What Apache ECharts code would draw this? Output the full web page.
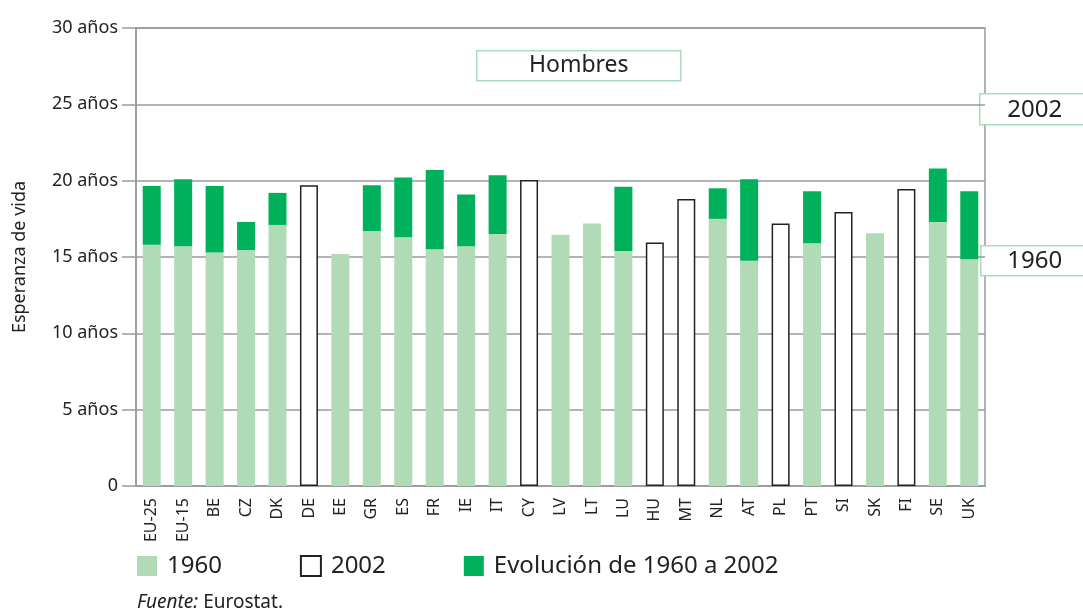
<!DOCTYPE html>
<html>
<head>
<meta charset="utf-8">
<script src="https://cdn.jsdelivr.net/npm/echarts@6/dist/echarts.min.js"></script>
<style>
  html, body { margin: 0; padding: 0; background: #fff; }
  #chart { width: 1083px; height: 614px; }
</style>
</head>
<body>
<div id="chart"></div>
<script>
var myChart = echarts.init(document.getElementById('chart'));

// países
var categories = ['EU-25', 'EU-15', 'BE', 'CZ', 'DK', 'DE', 'EE', 'GR', 'ES', 'FR', 'IE', 'IT', 'CY', 'LV', 'LT',
    'LU', 'HU', 'MT', 'NL', 'AT', 'PL', 'PT', 'SI', 'SK', 'FI', 'SE', 'UK'];
// esperanza de vida a los 65 años, hombres (null = sin dato)
var vida1960 = [15.8, 15.7, 15.3, 15.45, 17.1, null, 15.2, 16.7, 16.3, 15.5, 15.7, 16.5, null, 16.45, 17.2,
    15.4, null, null, 17.5, 14.75, null, 15.9, null, 16.55, null, 17.3, 14.85];
var vida2002 = [19.65, 20.1, 19.65, 17.3, 19.2, 19.7, null, 19.7, 20.2, 20.7, 19.1, 20.35, 20.05, null, null,
    19.6, 15.95, 18.8, 19.5, 20.1, 17.2, 19.3, 17.95, null, 19.45, 20.8, 19.3];
var yTicks = [0, 5, 10, 15, 20, 25, 30];

// series derivadas
var evolucion = categories.map(function (c, i) {
    if (vida1960[i] == null || vida2002[i] == null) return '-';
    return +(vida2002[i] - vida1960[i]).toFixed(2);
});
var solo2002 = categories.map(function (c, i) {
    return (vida1960[i] == null && vida2002[i] != null) ? vida2002[i] : '-';
});
var base1960 = vida1960.map(function (v) { return v == null ? '-' : v; });

var fuente = '"Noto Sans", "Open Sans", sans-serif';
var gris = '#9a9a9a';
var verdeClaro = '#b1dab7';
var verdeOscuro = '#00b05a';

var option = {
    animation: false,
    textStyle: { fontFamily: fuente },
    grid: {
        left: 136,
        right: 98,
        top: 28,
        bottom: 128,
        outerBoundsMode: 'none',
        containLabel: false,
        show: true,
        borderColor: gris,
        borderWidth: 1.5
    },
    legend: {
        data: ['1960', '2002', 'Evolución de 1960 a 2002'],
        left: 137,
        top: 554,
        padding: 0,
        icon: 'rect',
        itemWidth: 20,
        itemHeight: 20,
        itemGap: 78,
        textStyle: { fontSize: 24, color: '#222', fontFamily: fuente, padding: [0, 0, 0, 5] }
    },
    xAxis: {
        type: 'category',
        data: categories,
        axisLine: { lineStyle: { color: gris, width: 1.5 } },
        axisTick: { length: 12, lineStyle: { color: gris, width: 1.5 } },
        axisLabel: {
            rotate: 90,
            interval: 0,
            margin: 12,
            fontSize: 16,
            color: '#222'
        }
    },
    yAxis: {
        type: 'value',
        min: 0,
        max: 30,
        interval: 5,
        name: 'Esperanza de vida',
        nameLocation: 'middle',
        nameRotate: 90,
        nameGap: 107,
        nameTextStyle: { fontSize: 18, color: '#222' },
        axisLine: { show: true, lineStyle: { color: gris, width: 1.5 } },
        axisTick: { show: true, length: 14, lineStyle: { color: gris, width: 1.5 } },
        axisLabel: {
            margin: 18,
            fontSize: 18,
            color: '#222',
            formatter: function (v) {
                return yTicks.indexOf(v) < 0 ? '' : (v === 0 ? '0' : v + ' años');
            }
        },
        splitLine: { lineStyle: { color: gris, width: 1.5 } }
    },
    series: [
        {
            name: '1960',
            type: 'bar',
            stack: 'total',
            barWidth: 18,
            data: base1960,
            itemStyle: { color: verdeClaro }
        },
        {
            name: 'Evolución de 1960 a 2002',
            type: 'bar',
            stack: 'total',
            barWidth: 18,
            data: evolucion,
            itemStyle: { color: verdeOscuro }
        },
        {
            name: '2002',
            type: 'bar',
            stack: 'total',
            barWidth: 18,
            data: solo2002,
            itemStyle: { color: '#fff', borderColor: '#222', borderWidth: 1.5 }
        }
    ],
    graphic: [
        {
            type: 'group', left: 476, top: 50,
            children: [
                { type: 'rect', shape: { x: 0, y: 0, width: 204, height: 30 },
                  style: { fill: '#fff', stroke: '#a8dcbd', lineWidth: 1.5 } },
                { type: 'text', x: 102, y: 15,
                  style: { text: 'Hombres', fontSize: 23, fill: '#222', fontFamily: fuente, align: 'center', verticalAlign: 'middle' } }
            ]
        },
        {
            type: 'group', left: 979, top: 93,
            children: [
                { type: 'rect', shape: { x: 0, y: 0, width: 112, height: 31 },
                  style: { fill: '#fff', stroke: '#a8dcbd', lineWidth: 1.5 } },
                { type: 'text', x: 55, y: 16,
                  style: { text: '2002', fontSize: 24, fill: '#222', fontFamily: fuente, align: 'center', verticalAlign: 'middle' } }
            ]
        },
        {
            type: 'group', left: 980, top: 245,
            children: [
                { type: 'rect', shape: { x: 0, y: 0, width: 112, height: 30 },
                  style: { fill: '#fff', stroke: '#a8dcbd', lineWidth: 1.5 } },
                { type: 'text', x: 54, y: 15,
                  style: { text: '1960', fontSize: 24, fill: '#222', fontFamily: fuente, align: 'center', verticalAlign: 'middle' } }
            ]
        },
        {
            type: 'text', left: 137, top: 593,
            style: {
                text: '{i|Fuente:} Eurostat.',
                fontSize: 19,
                fill: '#222',
                fontFamily: fuente,
                rich: { i: { fontStyle: 'italic', fontSize: 19, fontFamily: fuente } }
            }
        }
    ]
};

myChart.setOption(option);
</script>
</body>
</html>
